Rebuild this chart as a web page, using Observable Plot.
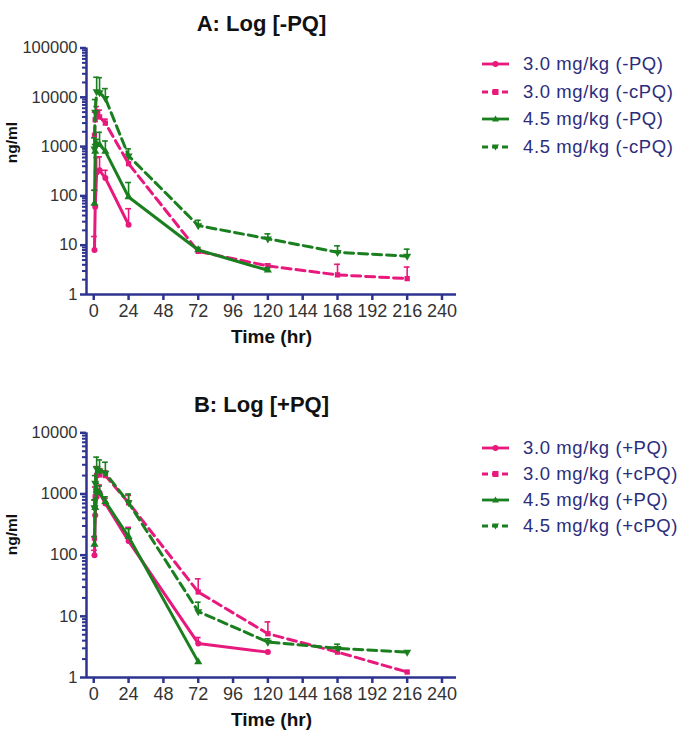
<!DOCTYPE html>
<html><head><meta charset="utf-8">
<script src="https://cdn.jsdelivr.net/npm/d3@7"></script>
<script src="https://cdn.jsdelivr.net/npm/@observablehq/plot@0.6"></script>
<style>
body{margin:0;background:#fff;}
#wrap{position:relative;width:680px;height:737px;font-family:"Liberation Sans",Arial,Helvetica,sans-serif;overflow:hidden;}
.panel{position:absolute;left:0;}
.leg{position:absolute;left:482px;height:22px;display:flex;align-items:center;white-space:nowrap;font-size:18.5px;letter-spacing:0.6px;color:#2b2d7c;}
.leg svg{margin-right:14px;flex:none;}
</style></head>
<body><div id="wrap"></div>
<script>
// ---- data (ng/ml) ----
const time = [0.5, 1, 2, 4, 8, 24, 72, 120, 168, 216];
const xTicks = [0, 24, 48, 72, 96, 120, 144, 168, 192, 216, 240];

// Panel A: Log [-PQ]
const labelsA = ["3.0 mg/kg (-PQ)", "3.0 mg/kg (-cPQ)", "4.5 mg/kg (-PQ)", "4.5 mg/kg (-cPQ)"];
const a30PQ    = [8, 60, 300, 330, 230, 26, null, null, null, null];
const a30PQup  = [15, 130, 600, 620, 330, 55, null, null, null, null];
const a30cPQ   = [1700, 3500, 4800, 4000, 3000, 450, 7.5, 3.8, 2.5, 2.1];
const a30cPQup = [null, 5000, 6500, 5500, 3600, 600, 8.5, 4.2, 4.1, 3.6];
const a45PQ    = [70, 800, 1100, 1100, 800, 95, 8, 3.1, null, null];
const a45PQup  = [130, 1100, 1400, 1950, 1300, 187, 9, 3.5, null, null];
const a45cPQ   = [900, 5000, 13000, 12500, 9500, 650, 25, 13.5, 7.2, 6];
const a45cPQup = [1500, 9000, 25500, 25000, 15000, 900, 32, 17, 9.7, 8.3];
const yTicksA  = [1, 10, 100, 1000, 10000, 100000];

// Panel B: Log [+PQ]
const labelsB = ["3.0 mg/kg (+PQ)", "3.0 mg/kg (+cPQ)", "4.5 mg/kg (+PQ)", "4.5 mg/kg (+cPQ)"];
const b30PQ    = [100, 450, 900, 1050, 700, 170, 3.6, 2.6, null, null];
const b30PQup  = [120, 600, 1200, 1400, 850, 285, 4.5, null, null, null];
const b30cPQ   = [190, 900, 2000, 2050, 2000, 720, 25, 5.2, 2.6, 1.23];
const b30cPQup = [null, 1300, 2800, 2600, 2400, 950, 41, 8.1, 3.0, null];
const b45PQ    = [150, 600, 1150, 1050, 750, 200, 1.8, null, null, null];
const b45PQup  = [200, 800, 1500, 1350, 900, 270, null, null, null, null];
const b45cPQ   = [600, 1500, 2600, 2400, 2200, 720, 12, 3.8, 3.0, 2.6];
const b45cPQup = [800, 2000, 4000, 3600, 3300, 1000, 17, 4.3, 3.5, null];
const yTicksB  = [1, 10, 100, 1000, 10000];

// ---- styles ----
const AXIS = "#2e3390", PINK = "#e8197d", GREEN = "#1a7f1f", TXT = "#333";
const FONT = '"Liberation Sans", Arial, Helvetica, sans-serif';
const styleDefs = [
  {color: PINK,  dash: null,  symbol: "circle",   rotate: 0},
  {color: PINK,  dash: "9,5", symbol: "square",   rotate: 0},
  {color: GREEN, dash: null,  symbol: "triangle", rotate: 0},
  {color: GREEN, dash: "9,5", symbol: "triangle", rotate: 180}
];

function makeSeries(labels, vals, ups) {
  return labels.map((label, i) => ({
    label, ...styleDefs[i],
    rows: time.map((t, j) => ({t, v: vals[i][j], up: ups[i][j]})).filter(d => d.v != null)
  }));
}

function minorTicks(max) {
  const out = [];
  for (let p = 1; p < max; p *= 10) for (let k = 2; k <= 9; k++) out.push(p * k);
  return out;
}

function panel({series, yTicks, title, top, height, marginTop, titleDy, ylabDy}) {
  const marks = [];
  const ymax = yTicks[yTicks.length - 1];
  marks.push(Plot.axisY({ticks: minorTicks(ymax), tickSize: 4, tickFormat: () => "", stroke: AXIS, strokeWidth: 2, label: null}));
  marks.push(Plot.axisY({ticks: yTicks, tickSize: 6, tickPadding: 3, tickFormat: d => String(d), stroke: AXIS, strokeWidth: 2.5, fill: TXT, fontSize: 16.5, label: null}));
  marks.push(Plot.axisX({ticks: xTicks, tickSize: 6, tickPadding: 4, tickFormat: d => String(d), stroke: AXIS, strokeWidth: 2.5, fill: TXT, fontSize: 18, label: null}));
  marks.push(Plot.ruleY([1], {stroke: AXIS, strokeWidth: 2.5}));
  marks.push(Plot.ruleX([-5], {stroke: AXIS, strokeWidth: 2.5}));
  for (const s of series) {
    const withUp = s.rows.filter(d => d.up != null);
    marks.push(Plot.ruleX(withUp, {x: "t", y1: "v", y2: "up", stroke: s.color, strokeWidth: 1.6}));
    marks.push(Plot.ruleY(withUp, {y: "up", x1: d => d.t - 2, x2: d => d.t + 2, stroke: s.color, strokeWidth: 1.6}));
    marks.push(Plot.line(s.rows, {x: "t", y: "v", stroke: s.color, strokeWidth: 3, strokeDasharray: s.dash}));
    marks.push(Plot.dot(s.rows, {x: "t", y: "v", symbol: s.symbol, rotate: s.rotate, r: 3, fill: s.color, stroke: "none"}));
  }
  marks.push(Plot.text([title], {text: d => d, frameAnchor: "top", dx: -10, dy: titleDy, fontSize: 22, fontWeight: "bold", fill: "#111", letterSpacing: 0.3}));
  marks.push(Plot.text(["Time (hr)"], {text: d => d, frameAnchor: "bottom", dy: 48, fontSize: 19, fontWeight: "bold", fill: "#111", letterSpacing: 0.5}));
  marks.push(Plot.text(["ng/ml"], {text: d => d, frameAnchor: "left", dx: -74, dy: ylabDy, rotate: -90, fontSize: 15.5, fontWeight: "bold", fill: "#111"}));
  const chart = Plot.plot({
    width: 470, height, marginLeft: 86, marginRight: 14, marginTop, marginBottom: 60,
    x: {type: "linear", domain: [-5, 250]},
    y: {type: "log", domain: [1, ymax]},
    style: {fontFamily: FONT, background: "transparent", overflow: "visible"},
    marks
  });
  chart.classList.add("panel");
  chart.style.top = top + "px";
  return chart;
}

function legend(series, y0, step) {
  return series.map((s, i) => {
    const div = document.createElement("div");
    div.className = "leg";
    div.style.top = (y0 + i * step - 11) + "px";
    const ns = "http://www.w3.org/2000/svg";
    const svg = document.createElementNS(ns, "svg");
    svg.setAttribute("width", 27); svg.setAttribute("height", 12);
    const ln = document.createElementNS(ns, "line");
    ln.setAttribute("x1", 0); ln.setAttribute("x2", 27); ln.setAttribute("y1", 6); ln.setAttribute("y2", 6);
    ln.setAttribute("stroke", s.color); ln.setAttribute("stroke-width", 2.8);
    if (s.dash) ln.setAttribute("stroke-dasharray", "6,4");
    svg.appendChild(ln);
    let m;
    if (s.symbol === "circle") { m = document.createElementNS(ns, "circle"); m.setAttribute("cx", 13.5); m.setAttribute("cy", 6); m.setAttribute("r", 3); }
    else if (s.symbol === "square") { m = document.createElementNS(ns, "rect"); m.setAttribute("x", 10.5); m.setAttribute("y", 3); m.setAttribute("width", 6); m.setAttribute("height", 6); }
    else { m = document.createElementNS(ns, "polygon"); m.setAttribute("points", s.rotate ? "10,3.5 17,3.5 13.5,9.5" : "10,8.5 17,8.5 13.5,2.5"); }
    m.setAttribute("fill", s.color);
    svg.appendChild(m);
    div.appendChild(svg);
    div.appendChild(document.createTextNode(s.label));
    return div;
  });
}

const seriesA = makeSeries(labelsA, [a30PQ, a30cPQ, a45PQ, a45cPQ], [a30PQup, a30cPQup, a45PQup, a45cPQup]);
const seriesB = makeSeries(labelsB, [b30PQ, b30cPQ, b45PQ, b45cPQ], [b30PQup, b30cPQup, b45PQup, b45cPQup]);

const wrap = document.getElementById("wrap");
wrap.appendChild(panel({series: seriesA, yTicks: yTicksA, title: "A: Log [-PQ]", top: 0, height: 354, marginTop: 47.5, titleDy: -32.5, ylabDy: -8}));
wrap.appendChild(panel({series: seriesB, yTicks: yTicksB, title: "B: Log [+PQ]", top: 360, height: 377, marginTop: 72.3, titleDy: -36.5, ylabDy: 0}));
legend(seriesA, 64, 27.5).forEach(d => wrap.appendChild(d));
legend(seriesB, 448, 26).forEach(d => wrap.appendChild(d));
</script>
</body></html>
